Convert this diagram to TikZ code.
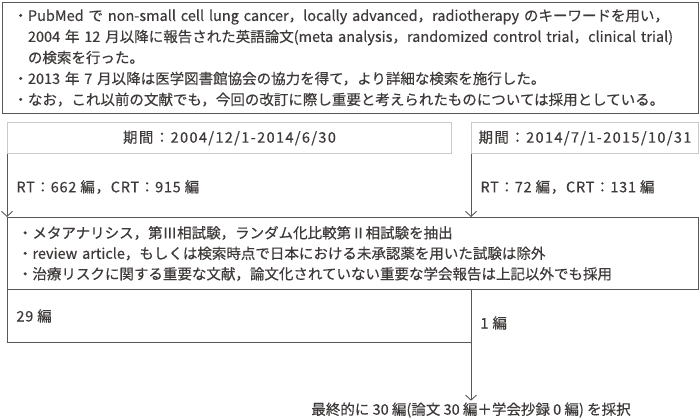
\documentclass[tikz,border=0pt]{standalone}
\usepackage{fontspec}
\setmainfont{Noto Sans CJK JP}[FakeBold=0.4]
\usepackage{xcolor}
\usetikzlibrary{arrows.meta,positioning}
\definecolor{ink}{HTML}{3E3A39}
\definecolor{rule}{HTML}{595757}
\definecolor{pale}{HTML}{C9CACA}
\tikzset{>={Straight Barb[length=5pt,width=11pt]}}
\tikzset{
  listbox/.style={draw=rule,anchor=north west,align=left,inner ysep=0pt},
  periodbox/.style={draw=pale,anchor=north west,minimum height=31pt,inner sep=0pt,
    font=\fontsize{14.5}{21}\selectfont\addfontfeature{LetterSpace=9.5}},
  count/.style={anchor=west,inner sep=0pt,font=\fontsize{14.5}{21}\selectfont\addfontfeature{LetterSpace=5}}
}

\begin{document}
\begin{tikzpicture}[x=1pt,y=-1pt,line width=0.9pt,color=rule, every node/.style={text=ink,font=\fontsize{14.5}{21}\selectfont}]
		\useasboundingbox (0,0) rectangle (700,419);
		% search conditions
		\node[listbox,text width=674pt,inner xsep=11pt,minimum height=111pt] (query) at (2,2) {%
			・PubMed で non-small cell lung cancer，locally advanced，radiotherapy のキーワードを用い，\\
			\hspace*{1em}2004 年 12 月以降に報告された英語論文(meta analysis，randomized control trial，clinical trial)\\
			\hspace*{1em}の検索を行った。\\
			・2013 年 7 月以降は医学図書館協会の協力を得て，より詳細な検索を施行した。\\
			・なお，これ以前の文献でも，今回の改訂に際し重要と考えられたものについては採用としている。};
		% periods
		\node[periodbox,minimum width=444pt] (periodA) at (7,122) {期間：2004/12/1-2014/6/30};
		\node[periodbox,minimum width=227pt] (periodB) at (471,122) {期間：2014/7/1-2015/10/31};
		\node[count] (hitsA) at (16,187) {RT：662 編，CRT：915 編};
		\node[count] (hitsB) at (480,187) {RT：72 編，CRT：131 編};
		% selection
		\node[listbox,text width=670pt,inner xsep=10.5pt,minimum height=72pt,font=\fontsize{14.5}{20.5}\selectfont] (select) at (7,217) {%
			・メタアナリシス，第Ⅲ相試験，ランダム化比較第Ⅱ相試験を抽出\\
			・review article，もしくは検索時点で日本における未承認薬を用いた試験は除外\\
			・治療リスクに関する重要な文献，論文化されていない重要な学会報告は上記以外でも採用};
		\draw[->] (periodA.south west) -- (periodA.south west |- select.north);
		\draw[->] (periodB.south west) -- (periodB.south west |- select.north);
		% results
		\coordinate (split) at (periodB.south west |- select.south);
		\coordinate (corner) at ([yshift=-53pt]split);
		\node[count] (keptA) at (16,316) {29 編};
		\node[count] (keptB) at (480,323) {1 編};
		\node (result) at (471,410) {最終的に 30 編(論文 30 編＋学会抄録 0 編) を採択};
		\draw (select.south west) |- (corner);
		\draw[->] (split) -- ([yshift=-2pt]result.north);
\end{tikzpicture}
\end{document}
